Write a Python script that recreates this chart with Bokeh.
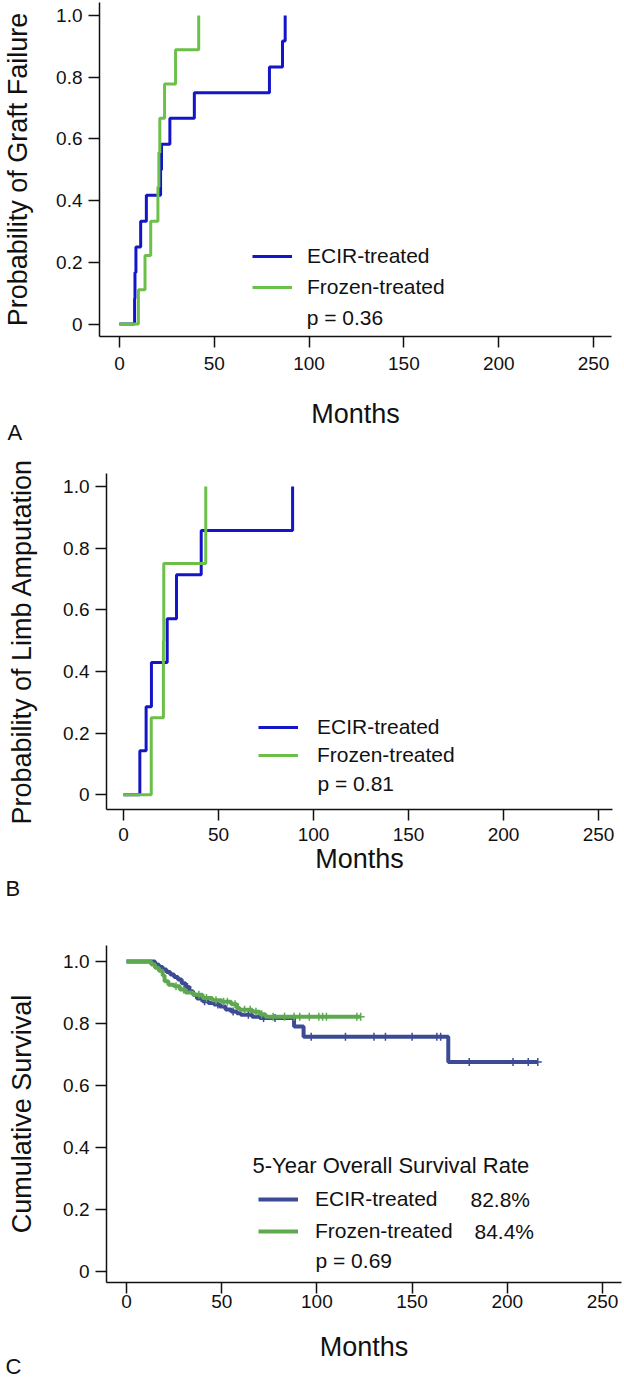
import numpy as np
from bokeh.plotting import figure
from bokeh.layouts import column
from bokeh.models import (Range1d, FixedTicker, Label, Legend, LegendItem, Title,
                          PrintfTickFormatter)
from bokeh.embed import file_html
from bokeh.resources import INLINE

# ---------------- data ----------------
x_ticks = [0, 50, 100, 150, 200, 250]
y_ticks = [0, 0.2, 0.4, 0.6, 0.8, 1.0]
series_names = ["ECIR-treated", "Frozen-treated"]
x_title = "Months"
panel_letters = ["A", "B", "C"]

# Panel A: probability of graft failure (step times in months)
a_ecir_t = [0, 8.0, 8.2, 8.7, 11.2, 14.2, 21.7, 22.2, 26.6, 39.5, 79.1, 86.0, 87.4]
a_ecir_p = [0, 0.083, 0.167, 0.25, 0.333, 0.417, 0.5, 0.583, 0.667, 0.75, 0.833, 0.917, 1.0]
a_froz_t = [0, 10.0, 13.5, 16.5, 20.3, 20.8, 21.3, 23.8, 29.6, 41.8]
a_froz_p = [0, 0.111, 0.222, 0.333, 0.444, 0.556, 0.667, 0.778, 0.889, 1.0]
a_ylabel = "Probability of Graft Failure"
a_pvalue = "p = 0.36"

# Panel B: probability of limb amputation
b_ecir_t = [0, 8.6, 11.9, 14.7, 23.0, 27.9, 40.9, 89.0]
b_ecir_p = [0, 0.143, 0.286, 0.429, 0.571, 0.714, 0.857, 1.0]
b_froz_t = [0, 14.6, 21.0, 21.2, 43.3]
b_froz_p = [0, 0.25, 0.5, 0.75, 1.0]
b_ylabel = "Probability of Limb Amputation"
b_pvalue = "p = 0.81"

# Panel C: cumulative survival
c_ecir_t = [0, 15, 17, 19, 21, 23, 25, 27, 29, 31, 33, 35, 37, 40, 43, 46, 49, 52, 55, 58, 60, 66, 70, 88, 93, 169]
c_ecir_s = [1.0, 0.99, 0.982, 0.974, 0.966, 0.958, 0.95, 0.942, 0.93, 0.918, 0.904, 0.893, 0.881, 0.872,
            0.866, 0.861, 0.855, 0.845, 0.839, 0.833, 0.828, 0.822, 0.818, 0.79, 0.757, 0.676]
c_ecir_end = 216
c_ecir_cens = [32, 41, 48, 56, 64, 72, 78, 97, 115, 130, 136, 150, 163, 165, 180, 203, 211, 216]
c_froz_t = [0, 13, 15, 17, 19, 20, 22, 25, 28, 31, 35, 40, 45, 50, 55, 58, 59.5, 66, 70, 73]
c_froz_s = [1.0, 0.99, 0.98, 0.97, 0.955, 0.936, 0.925, 0.92, 0.91, 0.90, 0.893, 0.882, 0.875, 0.87,
            0.862, 0.85, 0.844, 0.838, 0.83, 0.822]
c_froz_end = 123
c_froz_cens = [26, 30, 38, 42, 47, 51, 53, 57, 62, 65, 68, 71, 77, 83, 88, 91, 96, 101, 103, 105, 121, 123]
c_rates = ["82.8%", "84.4%"]
c_ylabel = "Cumulative Survival"
c_pvalue = "p = 0.69"
c_legend_title = "5-Year Overall Survival Rate"

# ---------------- style ----------------
FONT = "Liberation Sans"
INK = "#111111"
AB_BLUE, AB_GREEN = "#1515C8", "#6CC04A"
C_BLUE, C_GREEN = "#3D4B95", "#5EA850"
W = 624


def make_panel(h, xr, yr, bl, br, bt, bb, ylabel, y_std, xl_std, xal_std):
    p = figure(width=W, height=h, x_range=Range1d(*xr), y_range=Range1d(*yr),
               output_backend="svg", toolbar_location=None,
               min_border_left=bl, min_border_right=br, min_border_top=bt, min_border_bottom=bb)
    p.outline_line_color = None
    p.grid.visible = False
    xa, ya = p.xaxis[0], p.yaxis[0]
    xa.ticker = FixedTicker(ticks=x_ticks)
    ya.ticker = FixedTicker(ticks=y_ticks)
    ya.formatter = PrintfTickFormatter(format="%.1f")
    ya.major_label_overrides = {0: "0"}
    for ax in (xa, ya):
        ax.axis_line_color = INK
        ax.axis_line_width = 1.5
        ax.major_tick_line_color = INK
        ax.major_tick_line_width = 1.5
        ax.major_tick_in = 0
        ax.major_tick_out = 11
        ax.minor_tick_line_color = None
        ax.major_label_text_font = FONT
        ax.major_label_text_font_size = "19px"
        ax.major_label_text_color = INK
        ax.axis_label_text_font = FONT
        ax.axis_label_text_font_size = "27px"
        ax.axis_label_text_font_style = "normal"
        ax.axis_label_text_color = INK
    xa.axis_label = x_title
    xa.major_label_standoff = xl_std
    xa.axis_label_standoff = xal_std
    ya.axis_label = ylabel
    ya.major_label_standoff = 6
    ya.axis_label_standoff = y_std
    return p


def text(p, x, y, s, size="21px"):
    p.add_layout(Label(x=x, y=y, text=s, text_font=FONT, text_font_size=size, text_color=INK,
                       text_align="left", text_baseline="middle"))


def letter(p, s, frame_left, standoff):
    p.add_layout(Title(text=s, align="left", offset=5 - frame_left, standoff=standoff,
                       text_font=FONT, text_font_size="22px", text_font_style="normal",
                       text_color=INK), "below")


def legend(p, rs, loc, spacing, standoff):
    lg = Legend(items=[LegendItem(label=n, renderers=[r]) for n, r in zip(series_names, rs)],
                location=loc, orientation="vertical", padding=0, margin=0, spacing=spacing,
                glyph_width=40, glyph_height=24, label_height=24, label_standoff=standoff,
                label_text_font=FONT, label_text_font_size="21px", label_text_color=INK,
                border_line_color=None, background_fill_alpha=0)
    p.add_layout(lg)


def geom(x0px, xs, y0px, ys):
    return (lambda wx: (wx - x0px) / xs), (lambda wy: (y0px - wy) / ys)


# ---------------- panel A (page rows 0-460) ----------------
fx, fy = geom(117, 1.904, 323.5, 308.5)
pA = make_panel(460, (fx(97), fx(611)), (fy(336), fy(2)), 97, 13, 2, 124, a_ylabel, 20, 9, 26)
rA1 = pA.step(a_ecir_t, a_ecir_p, mode="after", line_color=AB_BLUE, line_width=3)
rA2 = pA.step(a_froz_t, a_froz_p, mode="after", line_color=AB_GREEN, line_width=3)
legend(pA, [rA1, rA2], (250 - 97, 336 - 299), 7, 15)
text(pA, fx(305), fy(317), a_pvalue)
letter(pA, panel_letters[0], 97, -27)

# ---------------- panel B (page rows 460-915) ----------------
gx, gy = geom(123, 1.9, 794.3 - 460, 308.3)
pB = make_panel(455, (gx(106), gx(612)), (gy(809 - 460), gy(473 - 460)), 106, 12, 13, 106,
                b_ylabel, 23, 7, 0)
rB1 = pB.step(b_ecir_t, b_ecir_p, mode="after", line_color=AB_BLUE, line_width=3)
rB2 = pB.step(b_froz_t, b_froz_p, mode="after", line_color=AB_GREEN, line_width=3)
legend(pB, [rB1, rB2], (258 - 106, 809 - 767), 4, 19)
text(pB, gx(317), gy(783 - 460), b_pvalue)
letter(pB, panel_letters[1], 106, -5)

# ---------------- panel C (page rows 915-1381) ----------------
hx, hy = geom(126, 1.904, 1271 - 915, 310)
pC = make_panel(466, (hx(106), hx(621)), (hy(1282 - 915), hy(945 - 915)), 106, 3, 30, 99,
                c_ylabel, 23, 1, 21)


def km_line(t, s, end):
    return list(t) + [end], list(s) + [s[-1]]


def km_at(t, s, times):
    idx = np.searchsorted(np.asarray(t), np.asarray(times), side="right") - 1
    return np.asarray(s)[idx]


xe, ye = km_line(c_ecir_t, c_ecir_s, c_ecir_end)
xf, yf = km_line(c_froz_t, c_froz_s, c_froz_end)
rC1 = pC.step(xe, ye, mode="after", line_color=C_BLUE, line_width=4)
pC.scatter(c_ecir_cens, km_at(c_ecir_t, c_ecir_s, c_ecir_cens), marker="cross", size=8,
           line_color=C_BLUE, line_width=1.5)
rC2 = pC.step(xf, yf, mode="after", line_color=C_GREEN, line_width=4)
pC.scatter(c_froz_cens, km_at(c_froz_t, c_froz_s, c_froz_cens), marker="cross", size=8,
           line_color=C_GREEN, line_width=1.5)
legend(pC, [rC1, rC2], (258 - 106, 1282 - 1243), 8, 17)
text(pC, hx(252), hy(1165 - 915), c_legend_title, size="22px")
text(pC, hx(470), hy(1199 - 915), c_rates[0])
text(pC, hx(474), hy(1231 - 915), c_rates[1])
text(pC, hx(315), hy(1260 - 915), c_pvalue)
letter(pC, panel_letters[2], 106, -29)

# wrap each figure separately so the outer column does not align their frames
layout = column(column(pA), column(pB), column(pC), spacing=0)
open("out.html", "w").write(file_html(layout, INLINE))
